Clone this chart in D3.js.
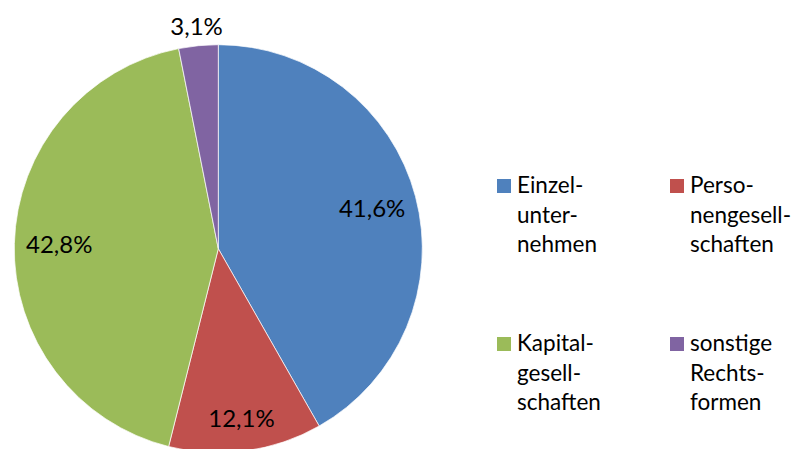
<!DOCTYPE html>
<html>
<head>
<meta charset="utf-8">
<script src="https://cdn.jsdelivr.net/npm/d3@7"></script>
<style>
  html, body { margin: 0; padding: 0; background: #fff; }
  svg { display: block; }
  text { font-family: Lato, "Open Sans", sans-serif; fill: #000; }
</style>
</head>
<body>
<svg id="chart" width="792" height="449"></svg>
<script>
const categories = ["Einzelunternehmen", "Personengesellschaften", "Kapitalgesellschaften", "sonstige Rechtsformen"];
const legendLines = [["Einzel-", "unter-", "nehmen"], ["Perso-", "nengesell-", "schaften"], ["Kapital-", "gesell-", "schaften"], ["sonstige", "Rechts-", "formen"]];
const values = [41.6, 12.1, 42.8, 3.1];
const valueLabels = ["41,6%", "12,1%", "42,8%", "3,1%"];
const colors = ["#4F81BD", "#C0504D", "#9BBB59", "#8064A2"];

const svg = d3.select("#chart");
const cx = 218.3, cy = 248.7, R = 204;

const data = categories.map((c, i) => ({ cat: c, value: values[i], label: valueLabels[i], lines: legendLines[i], color: colors[i] }));

const pie = d3.pie().sort(null).value(d => d.value);
const arcs = pie(data);
const arc = d3.arc().innerRadius(0).outerRadius(R);
const outerArc = d3.arc().innerRadius(R + 19).outerRadius(R + 19);
// narrower slices get their label pushed further out (best-fit style)
const labelR = d => {
  const span = d.endAngle - d.startAngle;
  return R * (span < 1.5 ? 0.84 : 0.78);
};

const g = svg.append("g").attr("transform", `translate(${cx},${cy})`);
g.selectAll("path.slice").data(arcs).join("path")
  .attr("class", "slice")
  .attr("d", arc)
  .attr("fill", d => d.data.color)
  .attr("stroke", "#fff")
  .attr("stroke-width", 0.7);

g.selectAll("text.lbl").data(arcs).join("text")
  .attr("class", "lbl")
  .attr("transform", d => {
    const small = (d.endAngle - d.startAngle) < 0.3;
    const r = labelR(d);
    const [x, y] = small ? outerArc.centroid(d) : d3.arc().innerRadius(r).outerRadius(r).centroid(d);
    return `translate(${x},${y})`;
  })
  .attr("text-anchor", "middle")
  .attr("dy", "0.36em")
  .style("font-size", "24px")
  .text(d => d.data.label);

// Legend: 2 columns x 2 rows
const colX = d3.scaleOrdinal().domain([0, 1]).range([497, 670]);
const rowY = d3.scaleOrdinal().domain([0, 1]).range([179, 337]);
const lineH = 29.5;

const leg = svg.append("g").selectAll("g.item").data(data).join("g")
  .attr("class", "item")
  .attr("transform", (d, i) => `translate(${colX(i % 2)},${rowY(Math.floor(i / 2))})`);

leg.append("rect")
  .attr("x", 0).attr("y", 0)
  .attr("width", 14).attr("height", 14)
  .attr("fill", d => d.color);

leg.append("text")
  .attr("x", 20)
  .attr("y", 14)
  .style("font-size", "22.5px")
  .selectAll("tspan").data(d => d.lines).join("tspan")
  .attr("x", 20)
  .attr("y", (t, j) => 14 + j * lineH)
  .text(t => t);
</script>
</body>
</html>
